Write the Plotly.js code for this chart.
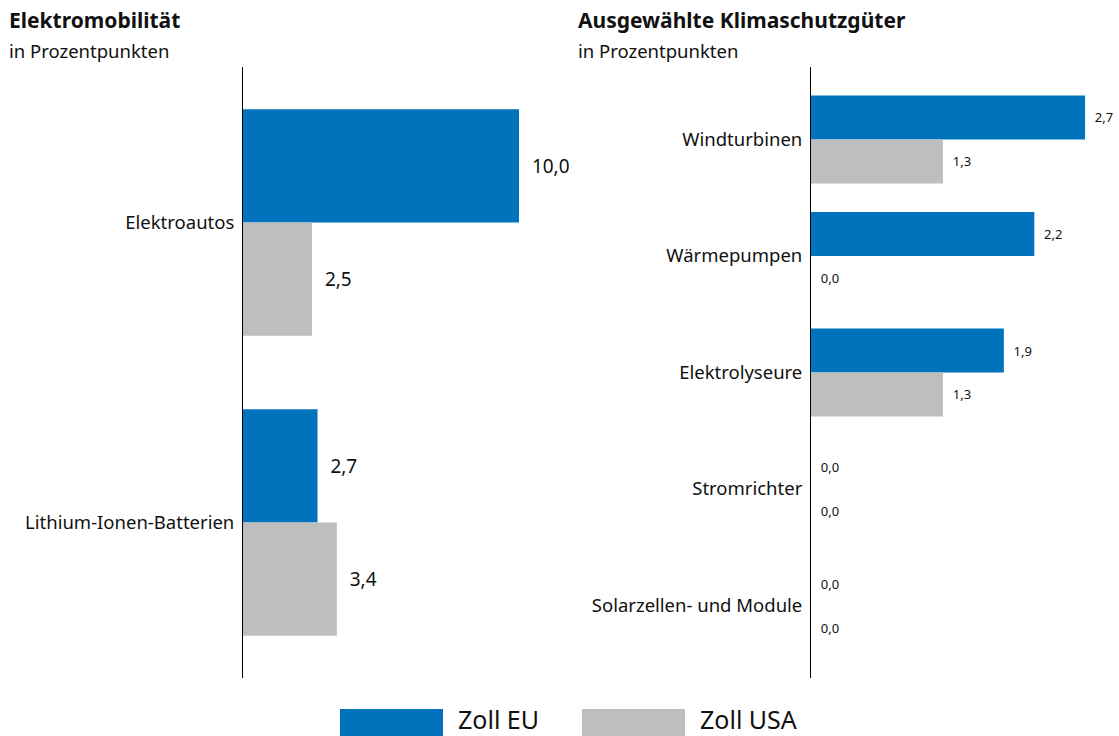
<!DOCTYPE html>
<html>
<head>
<meta charset="utf-8">
<script src="https://cdn.plot.ly/plotly-3.0.1.min.js"></script>
<style>html,body{margin:0;padding:0;background:#fff;}#chart{width:1119px;height:736px;}</style>
</head>
<body>
<div id="chart"></div>
<script>
// Data
const catsLeft = ["Elektroautos", "Lithium-Ionen-Batterien"];
const euLeft = [10.0, 2.7];
const usaLeft = [2.5, 3.4];

const catsRight = ["Windturbinen", "Wärmepumpen", "Elektrolyseure", "Stromrichter", "Solarzellen- und Module"];
const euRight = [2.7, 2.2, 1.9, 0.0, 0.0];
const usaRight = [1.3, 0.0, 1.3, 0.0, 0.0];

const seriesNames = ["Zoll EU", "Zoll USA"];
const titleLeft = "Elektromobilität";
const titleRight = "Ausgewählte Klimaschutzgüter";
const subtitle = "in Prozentpunkten";

const BLUE = "#0173BC";
const GRAY = "#BEBEBE";
const FONT = "Noto Sans, Open Sans, sans-serif";
const W = 1119, H = 736;

function bar(cats, vals, name, color, xa, ya, size) {
  return {
    type: "bar", orientation: "h", y: cats, x: vals, name: name,
    marker: {color: color}, xaxis: xa, yaxis: ya, showlegend: false,
    texttemplate: "\u00a0\u00a0%{x:.1f}", textposition: "outside",
    textfont: {size: size, color: "#111", family: FONT},
    cliponaxis: false, constraintext: "none", hoverinfo: "skip"
  };
}

const data = [
  bar(catsLeft, euLeft, seriesNames[0], BLUE, "x", "y", 19),
  bar(catsLeft, usaLeft, seriesNames[1], GRAY, "x", "y", 19),
  bar(catsRight, euRight, seriesNames[0], BLUE, "x2", "y2", 13),
  bar(catsRight, usaRight, seriesNames[1], GRAY, "x2", "y2", 13)
];

const yTop = 1 - 67 / H, yBot = 1 - 678 / H;
const lx0 = 243, lx1 = 560, lScale = 27.6;
const rx0 = 811, rx1 = 1119, rScale = 101.5;

const layout = {
  width: W, height: H,
  margin: {l: 0, r: 0, t: 0, b: 0},
  paper_bgcolor: "#fff", plot_bgcolor: "#fff",
  font: {family: FONT, color: "#111"},
  separators: ",.",
  barmode: "group", bargap: 0.245, bargroupgap: 0,
  xaxis: {domain: [lx0 / W, lx1 / W], range: [0, (lx1 - lx0) / lScale], visible: false, fixedrange: true},
  yaxis: {domain: [yBot, yTop], anchor: "x", range: [1.518, -0.518], showline: true, linecolor: "#000", linewidth: 1,
          ticks: "", showgrid: false, zeroline: false, tickfont: {size: 18.5, color: "#111"}, ticklabelstandoff: 4},
  xaxis2: {domain: [rx0 / W, rx1 / W], range: [0, (rx1 - rx0) / rScale], visible: false, fixedrange: true},
  yaxis2: {domain: [yBot, yTop], anchor: "x2", range: [4.622, -0.622], showline: true, linecolor: "#000", linewidth: 1,
           ticks: "", showgrid: false, zeroline: false, tickfont: {size: 18.5, color: "#111"}, ticklabelstandoff: 4},
  annotations: [
    {text: "<b>" + titleLeft + "</b>", x: 7 / W, y: 1 - 20 / H, xref: "paper", yref: "paper", xanchor: "left", yanchor: "middle", showarrow: false, font: {size: 21, color: "#111"}},
    {text: subtitle, x: 7 / W, y: 1 - 50 / H, xref: "paper", yref: "paper", xanchor: "left", yanchor: "middle", showarrow: false, font: {size: 18.5, color: "#111"}},
    {text: "<b>" + titleRight + "</b>", x: 576 / W, y: 1 - 20 / H, xref: "paper", yref: "paper", xanchor: "left", yanchor: "middle", showarrow: false, font: {size: 21, color: "#111"}},
    {text: subtitle, x: 576 / W, y: 1 - 50 / H, xref: "paper", yref: "paper", xanchor: "left", yanchor: "middle", showarrow: false, font: {size: 18.5, color: "#111"}},
    {text: seriesNames[0], x: 456 / W, y: 1 - 719 / H, xref: "paper", yref: "paper", xanchor: "left", yanchor: "middle", showarrow: false, font: {size: 25, color: "#111"}},
    {text: seriesNames[1], x: 698 / W, y: 1 - 719 / H, xref: "paper", yref: "paper", xanchor: "left", yanchor: "middle", showarrow: false, font: {size: 25, color: "#111"}}
  ],
  shapes: [
    {type: "rect", xref: "paper", yref: "paper", x0: 340 / W, x1: 443 / W, y0: 1 - 740 / H, y1: 1 - 709 / H, fillcolor: BLUE, line: {width: 0}},
    {type: "rect", xref: "paper", yref: "paper", x0: 582 / W, x1: 685 / W, y0: 1 - 740 / H, y1: 1 - 709 / H, fillcolor: GRAY, line: {width: 0}}
  ]
};

Plotly.newPlot("chart", data, layout, {displayModeBar: false, staticPlot: true});
</script>
</body>
</html>
